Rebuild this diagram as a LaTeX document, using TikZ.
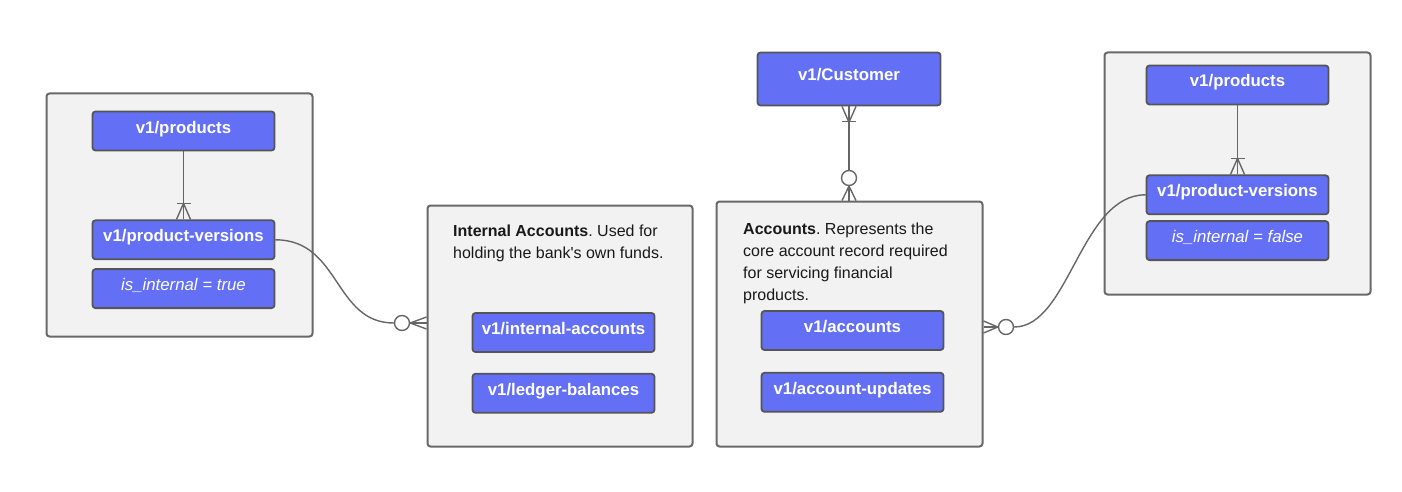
\documentclass[tikz,border=0pt]{standalone}
\usepackage{fontspec}
\setmainfont{Liberation Sans}
\usetikzlibrary{positioning, calc}
\definecolor{entblue}{RGB}{99,112,245}
\definecolor{entline}{RGB}{85,85,85}
\definecolor{grpfill}{RGB}{242,242,242}
\definecolor{grpline}{RGB}{105,105,105}
\definecolor{linkgray}{RGB}{102,102,102}
\tikzset{
    grp/.style = {draw=grpline, fill=grpfill, rounded corners=3pt, line width=2pt},
    ent/.style = {draw=entline, fill=entblue, rounded corners=3pt, line width=1.8pt, text=white, inner sep=0pt, minimum width=182pt, minimum height=39pt, text height=12pt, text depth=8pt, font=\fontsize{16.8}{19}\selectfont\bfseries},
    flag/.style = {ent, font=\fontsize{16.8}{19}\selectfont\itshape},
    note/.style = {anchor=north west, inner sep=0pt, align=left, text=black!90, font=\fontsize{16}{22}\selectfont\frenchspacing},
    zc/.style = {draw=linkgray, fill=white, circle, minimum size=15pt, inner sep=0pt, line width=1.4pt},
    link/.style = {draw=linkgray, line width=1.4pt}
}

\begin{document}
\begin{tikzpicture}[x=1pt, y=-1pt]
    \useasboundingbox (0,0) rectangle (1402,492);

    % left products group
    \node (grpL) [grp, minimum width=266pt, minimum height=243pt] at (179.5,215) {};
    \node (prodL) [ent] at (183.5,131) {v1/products};
    \node (pvL) [ent, below=68pt of prodL] {v1/product-versions};
    \node (flagL) [flag, below=8pt of pvL] {is\_internal = true};

    % internal accounts group
    \node (grpI) [grp, minimum width=265pt, minimum height=241pt] at (560,326) {};
    \node (txtI) [note] at (453,225) {\textbf{Internal Accounts}. Used for\\holding the bank\textquotesingle s own funds.};
    \node (ia) [ent] at (563.5,332.5) {v1/internal-accounts};
    \node (lb) [ent, below=20pt of ia] {v1/ledger-balances};

    % accounts group
    \node (grpA) [grp, minimum width=266pt, minimum height=245pt] at (849.5,324) {};
    \node (txtA) [note] at (743,223) {\textbf{Accounts}. Represents the\\core account record required\\for servicing financial\\products.};
    \node (acc) [ent] at (852.5,330.5) {v1/accounts};
    \node (au) [ent, below=21pt of acc] {v1/account-updates};
    \node (cust) [ent, minimum width=183pt, minimum height=53pt] at (849,79) {v1/Customer};

    % right products group
    \node (grpR) [grp, minimum width=266pt, minimum height=242pt] at (1237.5,173.5) {};
    \node (prodR) [ent] at (1237.5,85) {v1/products};
    \node (pvR) [ent, below=69pt of prodR] {v1/product-versions};
    \node (flagR) [flag, below=5pt of pvR] {is\_internal = false};

    % zero or many
    \node (cL) [zc] at (402,323) {};
    \node (cA) [zc] at (849,178) {};
    \node (cR) [zc] at (1006,327) {};

    % products -> product-versions
    \draw[link] (prodL) -- (pvL);
    \coordinate (hL) at ([yshift=16pt]pvL.north);
    \draw[link] ([xshift=-7pt]hL) -- ([xshift=7pt]hL);
    \foreach \d in {-7,7} \draw[link] (hL) -- ([xshift=\d pt]pvL.north);

    \draw[link] (prodR) -- (pvR);
    \coordinate (hR) at ([yshift=16pt]pvR.north);
    \draw[link] ([xshift=-7pt]hR) -- ([xshift=7pt]hR);
    \foreach \d in {-7,7} \draw[link] (hR) -- ([xshift=\d pt]pvR.north);

    % customer -> accounts
    \draw[link] (cust) -- (cA);
    \coordinate (hC) at ([yshift=-15pt]cust.south);
    \draw[link] ([xshift=-7pt]hC) -- ([xshift=7pt]hC);
    \foreach \d in {-7,7} \draw[link] ([xshift=\d pt]cust.south) -- ([yshift=-1pt]hC);
    \coordinate (tA) at (cA |- grpA.north);
    \foreach \d in {-7,0,7} \draw[link] (cA.south) -- ([xshift=\d pt]tA);

    % product-versions -> accounts
    \draw[link] (pvL.east) .. controls +(65,0) and +(-60,0) .. (cL.west);
    \coordinate (tI) at (cL -| grpI.west);
    \foreach \d in {-6,0,6} \draw[link] (cL.east) -- ([yshift=\d pt]tI);

    \draw[link] (pvR.west) .. controls +(-65,0) and +(55,0) .. (cR.east);
    \coordinate (tR) at (cR -| grpA.east);
    \foreach \d in {-6,0,6} \draw[link] (cR.west) -- ([yshift=\d pt]tR);
\end{tikzpicture}
\end{document}
